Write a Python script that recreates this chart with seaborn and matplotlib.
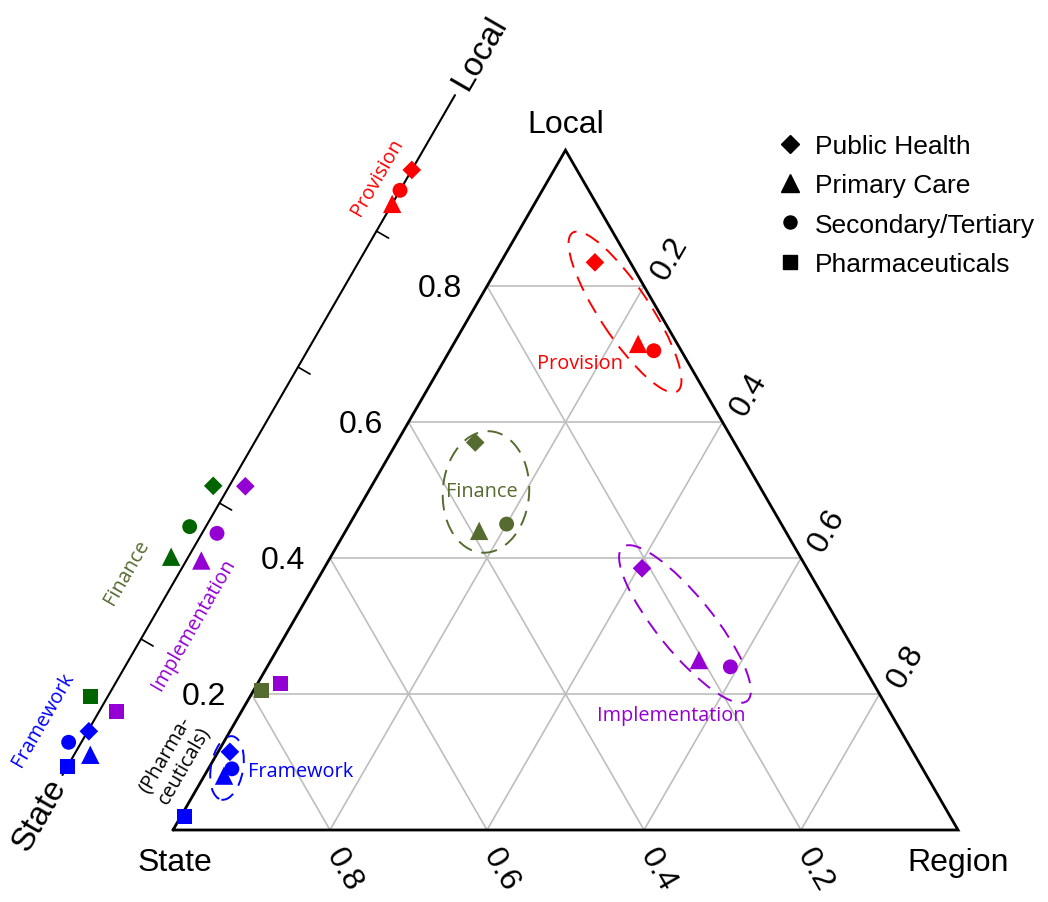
import numpy as np
import pandas as pd
import matplotlib
matplotlib.use("Agg")
import matplotlib.pyplot as plt
from matplotlib.patches import Ellipse
from matplotlib.lines import Line2D
import seaborn as sns

# ---------------------------------------------------------------- data
groups = ["Provision", "Finance", "Implementation", "Framework"]
sectors = ["Public Health", "Primary Care", "Secondary/Tertiary", "Pharmaceuticals"]

# ternary shares per sector (Local, Region); State is the remainder
provision_local = [0.835, 0.715, 0.705, np.nan]
provision_region = [0.120, 0.235, 0.260, np.nan]
finance_local = [0.570, 0.440, 0.450, 0.205]
finance_region = [0.100, 0.170, 0.200, 0.010]
implementation_local = [0.385, 0.250, 0.240, 0.215]
implementation_region = [0.405, 0.545, 0.590, 0.030]
framework_local = [0.115, 0.080, 0.090, 0.020]
framework_region = [0.015, 0.025, 0.030, 0.005]

# one-dimensional State (0) -> Local (1) scale per sector
provision_scale = [0.89, 0.84, 0.86, np.nan]
finance_scale = [0.415, 0.31, 0.355, 0.105]
implementation_scale = [0.435, 0.325, 0.365, 0.105]
framework_scale = [0.065, 0.04, 0.04, 0.013]

tick_values = [0.2, 0.4, 0.6, 0.8]
tick_labels = ["0.2", "0.4", "0.6", "0.8"]

# ---------------------------------------------------------------- style
main_colors = {"Provision": "#FF0000", "Finance": "#556B2F",
               "Implementation": "#9400D3", "Framework": "#0000FF"}
scale_colors = dict(main_colors, Finance="#006400")
marker_map = {"Public Health": "D", "Primary Care": "^",
              "Secondary/Tertiary": "o", "Pharmaceuticals": "s"}
size_map = {"Public Health": 90, "Primary Care": 175,
            "Secondary/Tertiary": 115, "Pharmaceuticals": 115}
# sideways nudge (px) that keeps markers on the 1-D scale apart
scale_nudge = {"Provision": [0, 0, 0, 0],
               "Finance": [-14, -15, -14, -15],
               "Implementation": [14, 13, 13, 15],
               "Framework": [1, 14, -11, 0]}

sns.set_style("white")
plt.rcParams["font.family"] = ["Liberation Sans", "DejaVu Sans"]
plt.rcParams["text.color"] = "black"
NOTE_FONT = ["Open Sans", "DejaVu Sans"]
NOTE_SIZE = 14.3

PX = 785.0                      # pixels per unit side length
H = np.sqrt(3) / 2
SCALE_ORIGIN = (-0.1408, 0.0701)  # start of the 1-D scale, parallel to the left edge


def tern(local, region):
    local = np.asarray(local, dtype=float)
    region = np.asarray(region, dtype=float)
    return region + local / 2, local * H


def scale_xy(t, nudge_px=0.0):
    t = np.asarray(t, dtype=float)
    n = np.asarray(nudge_px, dtype=float) / PX
    ox, oy = SCALE_ORIGIN
    return ox + 0.5 * t + H * n, oy + H * t - 0.5 * n


fig = plt.figure(figsize=(10.48, 9.03), dpi=100)
ax = fig.add_axes([0, 0, 1, 1])
ax.set_xlim(-173 / PX, 875 / PX)
ax.set_ylim(-72 / PX, 831 / PX)
ax.axis("off")

# ---------------------------------------------------------------- grid + frame
for k in tick_values:
    for (l0, r0), (l1, r1) in [((k, 0), (k, 1 - k)),            # const Local
                               ((0, k), (1 - k, k)),            # const Region
                               ((0, 1 - k), (1 - k, 0))]:       # const State
        x0, y0 = tern(l0, r0)
        x1, y1 = tern(l1, r1)
        ax.plot([x0, x1], [y0, y1], color="#BEBEBE", lw=1.2, zorder=1)

cx, cy = tern([0, 0, 1, 0], [0, 1, 0, 0])
ax.plot(cx, cy, color="black", lw=2.0, zorder=2, solid_joinstyle="miter")

# tick labels
for k, lab in zip(tick_values, tick_labels):
    x, y = tern(k, 0)
    ax.text(x - 25 / PX, y - 2 / PX, lab, ha="right", va="center", fontsize=23)
    x, y = tern(1 - k, k)
    ax.text(x + 26 / PX, y + 28 / PX, lab, ha="center", va="center",
            fontsize=23, rotation=60)
    x, y = tern(0, 1 - k)
    ax.text(x + 14 / PX, y - 39 / PX, lab, ha="center", va="center",
            fontsize=23, rotation=-60)

x, y = tern(1, 0)
ax.text(x, y + 26 / PX, "Local", ha="center", va="center", fontsize=23)
ax.text(0.0025, -32 / PX, "State", ha="center", va="center", fontsize=23)
ax.text(1.0, -32 / PX, "Region", ha="center", va="center", fontsize=23)

# ---------------------------------------------------------------- 1-D scale
sx, sy = scale_xy([0, 1])
ax.plot(sx, sy, color="black", lw=1.5, zorder=2)
for k in tick_values:
    tx, ty = scale_xy([k, k], [0, 14])
    ax.plot(tx, ty, color="black", lw=1.2, zorder=2)
x, y = scale_xy(1.063)
ax.text(x, y, "Local", rotation=60, ha="center", va="center", fontsize=24)
x, y = scale_xy(-0.058)
ax.text(x, y, "State", rotation=60, ha="center", va="center", fontsize=24)

# ---------------------------------------------------------------- points
local_cols = [provision_local, finance_local, implementation_local, framework_local]
region_cols = [provision_region, finance_region, implementation_region, framework_region]
scale_cols = [provision_scale, finance_scale, implementation_scale, framework_scale]

rows, srows = [], []
for g, loc, reg, sc in zip(groups, local_cols, region_cols, scale_cols):
    for i, s in enumerate(sectors):
        if not np.isnan(loc[i]):
            x, y = tern(loc[i], reg[i])
            rows.append({"group": g, "sector": s, "x": float(x), "y": float(y)})
        if not np.isnan(sc[i]):
            x, y = scale_xy(sc[i], scale_nudge[g][i])
            srows.append({"group": g, "sector": s, "x": float(x), "y": float(y)})
main_df = pd.DataFrame(rows)
scale_df = pd.DataFrame(srows)

for df, pal in [(main_df, main_colors), (scale_df, scale_colors)]:
    sns.scatterplot(data=df, x="x", y="y", hue="group", style="sector",
                    size="sector", hue_order=groups, style_order=sectors,
                    size_order=sectors, palette=pal, markers=marker_map,
                    sizes=size_map, linewidth=0, legend=False, ax=ax,
                    zorder=5)
ax.set_xlabel("")
ax.set_ylabel("")

# ---------------------------------------------------------------- cluster rings
rings = [("Provision", (0.5758, 0.6599), 0.242, 0.064, -56.5, (8, 5)),
         ("Finance", (0.3987, 0.4306), 0.110, 0.155, -4, (8, 5)),
         ("Implementation", (0.6522, 0.2624), 0.252, 0.071, -51, (8, 5)),
         ("Framework", (0.0688, 0.0790), 0.041, 0.082, -10, (7, 5))]
for g, c, w, h, ang, dash in rings:
    ax.add_patch(Ellipse(c, w, h, angle=ang, fill=False, ec=main_colors[g],
                         lw=1.4, ls=(0, dash), zorder=4))

# cluster names inside the triangle
ax.text(0.5185, 0.5949, "Provision", color=main_colors["Provision"],
        ha="center", va="center", fontsize=NOTE_SIZE, family=NOTE_FONT)
ax.text(0.3936, 0.4318, "Finance", color=main_colors["Finance"],
        ha="center", va="center", fontsize=NOTE_SIZE, family=NOTE_FONT)
ax.text(0.6344, 0.1465, "Implementation", color=main_colors["Implementation"],
        ha="center", va="center", fontsize=NOTE_SIZE, family=NOTE_FONT)
ax.text(0.0955, 0.0752, "Framework", color=main_colors["Framework"],
        ha="left", va="center", fontsize=NOTE_SIZE, family=NOTE_FONT)
ax.text(0.0025, 0.0904, "(Pharma-\nceuticals)", color="black", rotation=60,
        ha="center", va="center", fontsize=NOTE_SIZE, family=NOTE_FONT,
        linespacing=1.1, multialignment="center")

# cluster names beside the 1-D scale
for g, t, off in [("Provision", 0.861, -27), ("Finance", 0.266, -46),
                  ("Implementation", 0.251, 38), ("Framework", 0.049, -45)]:
    x, y = scale_xy(t, off)
    ax.text(x, y, g, color=main_colors[g], rotation=60, ha="center",
            va="center", fontsize=NOTE_SIZE, family=NOTE_FONT)

# ---------------------------------------------------------------- legend
leg_ms = {"Public Health": 9.5, "Primary Care": 13,
          "Secondary/Tertiary": 9.4, "Pharmaceuticals": 10.7}
handles = [Line2D([], [], marker=marker_map[s], color="black", ls="none",
                  markersize=leg_ms[s], label=s) for s in sectors]
ax.legend(handles=handles, loc="upper left",
          bbox_to_anchor=(777 / 1048, 1 - 135 / 903), frameon=False,
          fontsize=19, handlelength=1.0, handletextpad=0.45,
          labelspacing=0.58, borderpad=0, borderaxespad=0)

fig.savefig("out.png", dpi=100)
